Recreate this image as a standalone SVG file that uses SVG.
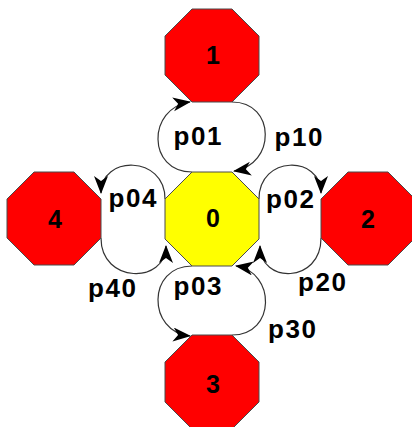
<svg xmlns="http://www.w3.org/2000/svg" width="412" height="427" viewBox="0 0 412 427">
<style>
.red{fill:#FF0000;stroke:#4a4a4a;stroke-width:1}
.yel{fill:#FFFF00;stroke:#4a4a4a;stroke-width:1}
.nl{font-family:"Liberation Sans",Arial,sans-serif;font-weight:bold;font-size:25px;fill:#000;text-anchor:middle}
.el{font-family:"Liberation Sans",Arial,sans-serif;font-weight:bold;font-size:26px;fill:#000;text-anchor:middle}
.c{fill:none;stroke:#333;stroke-width:1.2;marker-end:url(#ah)}
</style>
<defs>
<marker id="ah" markerUnits="userSpaceOnUse" markerWidth="20" markerHeight="16" refX="17" refY="7" orient="auto">
<path d="M0,0 L18,7 L0,14 L5,7 z" fill="#000"/>
</marker>
</defs>
<rect width="412" height="427" fill="#fff"/>
<g id="connectors">
<path class="c" d="M192,172 C147,172 147,108 190,102"/>
<path class="c" d="M232,102 C276,102 276,165 234,171"/>
<path class="c" d="M165,199 C165,155 101,155 101,193"/>
<path class="c" d="M101,238 C101,284 166,284 166,246"/>
<path class="c" d="M259,199 C259,155 321,155 321,193"/>
<path class="c" d="M321,238 C321,284 260,284 260,246"/>
<path class="c" d="M192,266 C147,266 147,332 190,336"/>
<path class="c" d="M232,335 C276,335 276,272 236,266"/>
</g>
<g id="node0"><polygon class="yel" points="192,172 232,172 259,199 259,239 232,266 192,266 165,239 165,199"/><text class="nl" x="213" y="227">0</text></g>
<g id="node1"><polygon class="red" points="192,9 232,9 259,36 259,75 232,102 192,102 165,75 165,36"/><text class="nl" x="213" y="64">1</text></g>
<g id="node2"><polygon class="red" points="348,172 388,172 415,199 415,238 388,265 348,265 321,238 321,199"/><text class="nl" x="368" y="228">2</text></g>
<g id="node3"><polygon class="red" points="192,335 232,335 259,362 259,402 232,429 192,429 165,402 165,362"/><text class="nl" x="213" y="393">3</text></g>
<g id="node4"><polygon class="red" points="34,172 74,172 101,199 101,238 74,265 34,265 7,238 7,199"/><text class="nl" x="55" y="228">4</text></g>
<g id="labels">
<text class="el" x="197.5" y="145" textLength="48" lengthAdjust="spacing">p01</text>
<text class="el" x="298.5" y="146" textLength="48" lengthAdjust="spacing">p10</text>
<text class="el" x="132.5" y="207" textLength="48" lengthAdjust="spacing">p04</text>
<text class="el" x="112" y="297" textLength="48" lengthAdjust="spacing">p40</text>
<text class="el" x="290" y="208" textLength="48" lengthAdjust="spacing">p02</text>
<text class="el" x="322" y="291" textLength="48" lengthAdjust="spacing">p20</text>
<text class="el" x="197.5" y="295" textLength="48" lengthAdjust="spacing">p03</text>
<text class="el" x="292" y="338" textLength="48" lengthAdjust="spacing">p30</text>
</g>
</svg>
